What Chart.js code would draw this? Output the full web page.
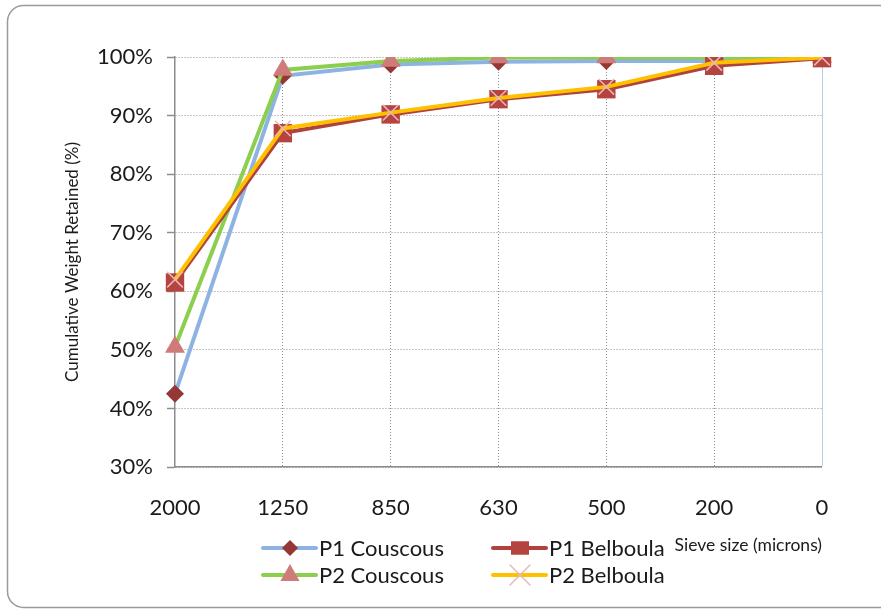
<!DOCTYPE html>
<html>
<head>
<meta charset="utf-8">
<script src="https://cdn.jsdelivr.net/npm/chart.js@4.4.1/dist/chart.umd.min.js"></script>
<style>
  html, body { margin: 0; padding: 0; background: #fff; overflow: hidden; }
  #wrap { width: 881px; height: 610px; position: relative; }
</style>
</head>
<body>
<div id="wrap"><canvas id="canvas" width="881" height="610"></canvas></div>
<script>
// DATA
const sieveSizes = ['2000', '1250', '850', '630', '500', '200', '0'];
const p1Couscous = [42.5, 96.8, 98.7, 99.2, 99.3, 99.3, 100];
const p2Couscous = [50.5, 97.8, 99.3, 99.9, 99.9, 99.9, 100];
const p1Belboula = [61.5, 87.0, 90.2, 92.8, 94.5, 98.5, 99.8];
const p2Belboula = [62.0, 87.8, 90.5, 93.0, 94.9, 99.0, 99.9];
const yMin = 30, yMax = 100, yStep = 10;

const FONT = 'Lato, "Open Sans", sans-serif';

// border + custom two column legend
const frameAndLegend = {
  id: 'frameAndLegend',
  beforeDraw(chart) {
    const c = chart.ctx;
    c.save();
    c.fillStyle = '#fff';
    c.fillRect(0, 0, chart.width, chart.height);
    c.strokeStyle = '#9a9a9a';
    c.lineWidth = 1.5;
    c.beginPath();
    c.roundRect(7.5, 5.5, 900, 602, 16);
    c.stroke();
    c.restore();
  },
  afterDraw(chart) {
    const c = chart.ctx;
    const slots = [[263, 548], [263, 575], [493, 548], [493, 575]];
    chart.data.datasets.forEach((ds, i) => {
      const [x, y] = slots[i];
      c.save();
      c.strokeStyle = ds.borderColor;
      c.lineWidth = 4;
      c.lineCap = 'round';
      c.beginPath();
      c.moveTo(x, y);
      c.lineTo(x + 53, y);
      c.stroke();
      drawMarker(c, ds.pointStyle, x + 27, y, ds.legendRadius, ds.pointBackgroundColor);
      c.fillStyle = '#1a1a1a';
      c.font = '22px ' + FONT;
      c.textBaseline = 'middle';
      c.fillText(ds.label, x + 56, y + 1);
      c.restore();
    });
  }
};

function drawMarker(c, style, x, y, r, color) {
  c.fillStyle = color;
  c.strokeStyle = color;
  c.beginPath();
  if (style === 'rectRot') {
    c.moveTo(x, y - r); c.lineTo(x + r, y); c.lineTo(x, y + r); c.lineTo(x - r, y);
    c.closePath(); c.fill();
  } else if (style === 'triangle') {
    c.moveTo(x, y - r); c.lineTo(x + r * 0.87, y + r * 0.55); c.lineTo(x - r * 0.87, y + r * 0.55);
    c.closePath(); c.fill();
  } else if (style === 'rect') {
    c.rect(x - r, y - r * 0.75, 2 * r, 1.5 * r); c.fill();
  } else {
    c.lineWidth = 1.5;
    c.moveTo(x - r, y - r); c.lineTo(x + r, y + r);
    c.moveTo(x + r, y - r); c.lineTo(x - r, y + r);
    c.stroke();
  }
}

var ctx = document.getElementById('canvas').getContext('2d');
window.myLine = new Chart(ctx, {
  type: 'line',
  data: {
    labels: sieveSizes,
    datasets: [{
      label: 'P1 Couscous',
      data: p1Couscous,
      borderColor: '#8db3e2',
      pointStyle: 'rectRot',
      pointRadius: 9,
      pointBackgroundColor: '#953735',
      pointBorderColor: '#953735',
      legendRadius: 8,
      order: 4
    }, {
      label: 'P2 Couscous',
      data: p2Couscous,
      borderColor: '#8cce4e',
      pointStyle: 'triangle',
      pointRadius: 11.5,
      pointBackgroundColor: '#cf7b79',
      pointBorderColor: '#cf7b79',
      legendRadius: 11,
      order: 3
    }, {
      label: 'P1 Belboula',
      data: p1Belboula,
      borderColor: '#b0413d',
      pointStyle: 'rect',
      pointRadius: 13,
      pointBackgroundColor: '#b5433f',
      pointBorderColor: '#b5433f',
      legendRadius: 9,
      order: 2
    }, {
      label: 'P2 Belboula',
      data: p2Belboula,
      borderColor: '#ffc000',
      pointStyle: 'crossRot',
      pointRadius: 11,
      pointBackgroundColor: '#e6b9b8',
      pointBorderColor: '#e6b9b8',
      pointBorderWidth: 1.5,
      legendRadius: 10,
      order: 1
    }]
  },
  options: {
    responsive: false,
    animation: false,
    layout: { padding: { top: 57, right: 59, bottom: 48, left: 0 } },
    elements: {
      line: { borderWidth: 4, tension: 0, fill: false },
      point: { borderWidth: 0, hoverRadius: 9 }
    },
    plugins: {
      legend: { display: false },
      tooltip: { enabled: false }
    },
    scales: {
      x: {
        offset: false,
        afterFit: (s) => { s.height = 95; },
        grid: {
          drawTicks: false,
          color: (c) => c.index === sieveSizes.length - 1 ? '#b9cde5' : '#8c8c8c',
          lineWidth: (c) => c.index === 0 ? 0 : 1
        },
        border: {
          display: true,
          color: '#8c8c8c',
          width: 1.5,
          dash: (c) => c.index === sieveSizes.length - 1 ? [] : [1, 2]
        },
        ticks: { color: '#1a1a1a', font: { family: FONT, size: 22 }, padding: 28, maxRotation: 0 },
        title: {
          display: true,
          text: 'Sieve size (microns)',
          align: 'end',
          color: '#1a1a1a',
          font: { family: FONT, size: 17.5 },
          padding: { top: 0, bottom: 6.5 }
        }
      },
      y: {
        min: yMin,
        max: yMax,
        afterFit: (s) => { s.width = 175; },
        grid: {
          color: '#8c8c8c',
          lineWidth: 1,
          tickLength: 8,
          tickColor: '#8c8c8c',
          tickWidth: 1.5
        },
        border: { display: true, color: '#8c8c8c', width: 1.5, dash: [1, 2] },
        ticks: {
          stepSize: yStep,
          color: '#1a1a1a',
          padding: 14,
          font: { family: FONT, size: 22 },
          callback: (v) => v + '%'
        },
        title: {
          display: true,
          text: 'Cumulative Weight Retained (%)',
          color: '#1a1a1a',
          font: { family: FONT, size: 17 },
          padding: { top: 62, bottom: 0 }
        }
      }
    }
  },
  plugins: [frameAndLegend]
});
</script>
</body>
</html>
